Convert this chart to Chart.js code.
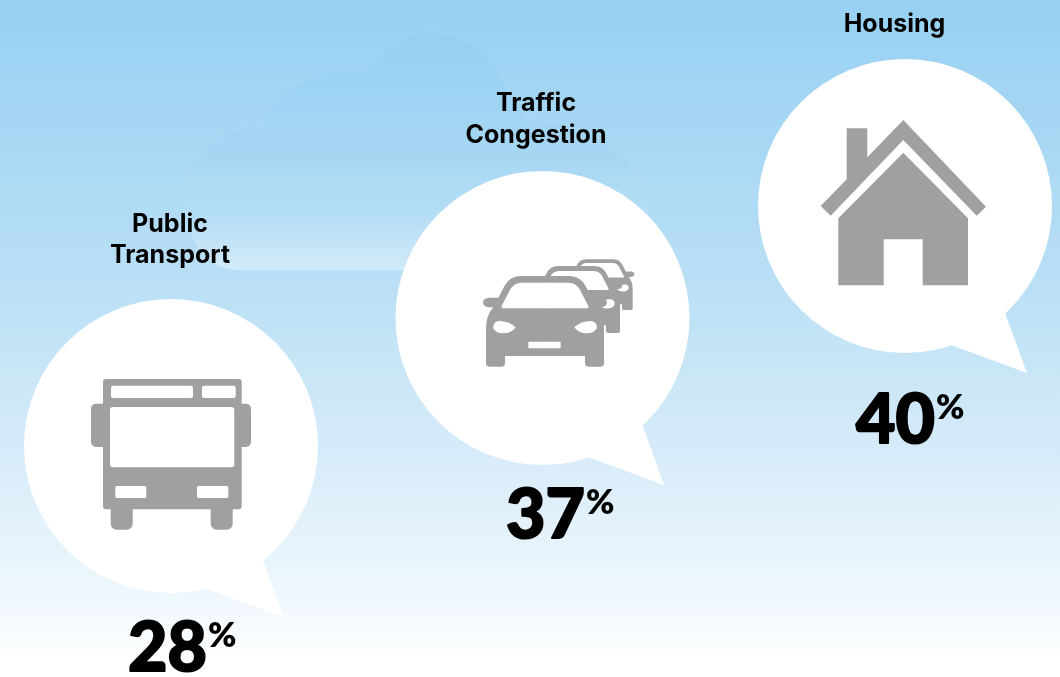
<!DOCTYPE html>
<html>
<head>
<meta charset="utf-8">
<title>Public Transport, Traffic Congestion, Housing</title>
<script src="https://cdn.jsdelivr.net/npm/chart.js@4"></script>
<style>
    html, body { margin: 0; padding: 0; background: #fff; }
    #wrap { position: relative; width: 1060px; height: 677px; }
</style>
</head>
<body>
<div id="wrap"><canvas id="chart" width="1060" height="677"></canvas></div>
<script>
// Data
var categories = [["Public", "Transport"], ["Traffic", "Congestion"], ["Housing"]];
var shares = [28, 37, 40];

var GREY = "#a0a0a0";
var radius = 147;

// The picture staggers its bubbles unevenly, so the axes map values to fractions
class StopScale extends Chart.LinearScale {
    getPixelForValue(value) {
        var stops = this.options.stops;
        var key = String(value);
        if (key in stops) {
            return this.isHorizontal() ? this.left + this.width * stops[key] : this.top + this.height * stops[key];
        }
        return super.getPixelForValue(value);
    }
}
StopScale.id = "stops";
StopScale.defaults = {};
Chart.register(StopScale);

// Label and tail placement around each bubble centre
var callouts = [
    { nameDx: -1, nameY: [-214, -183], pctDx: -43, pctY: 225, tail: [[0, 0], [92, 114], [112, 171], [33, 142]], icon: drawBus },
    { nameDx: -6.5, nameY: [-207, -175], pctDx: -36.5, pctY: 220, tail: [[0, 0], [100, 107], [121.5, 167], [46, 139]], icon: drawCars },
    { nameDx: -10.5, nameY: [-174], pctDx: -49, pctY: 237, tail: [[0, 0], [100, 107], [122, 167], [46, 139]], icon: drawHouse },
];

function poly(ctx, pts) {
    ctx.beginPath();
    pts.forEach(function (p, i) {
        if (i === 0) ctx.moveTo(p[0], p[1]);
        else ctx.lineTo(p[0], p[1]);
    });
    ctx.closePath();
    ctx.fill();
}

function box(ctx, x0, y0, x1, y1, r) {
    ctx.beginPath();
    ctx.roundRect(x0, y0, x1 - x0, y1 - y0, r);
    ctx.fill();
}

function drawBus(ctx) {
    ctx.fillStyle = GREY;
    box(ctx, -68, -67, 70.7, 63.3, 3);
    box(ctx, -80, -42.3, -60, 1, 5);
    box(ctx, 62, -42.3, 80, 1, 5);
    box(ctx, -60.3, 55, -38.3, 83.7, 6);
    box(ctx, 39.7, 55, 61.7, 83.7, 6);
    ctx.fillStyle = "#fff";
    box(ctx, -60, -60.3, 22, -48, 2);
    box(ctx, 31, -60.3, 64.7, -48, 2);
    box(ctx, -61, -39, 63.3, 21.3, 3);
    box(ctx, -55.7, 40, -24.7, 52, 1.5);
    box(ctx, 26, 40, 57.3, 52, 1.5);
}

function carBody(ctx) {
    // Front view, drawn left to right then mirrored
    ctx.fillStyle = GREY;
    [1, -1].forEach(function (side) {
        ctx.beginPath();
        ctx.moveTo(-side * 4, 78);
        ctx.lineTo(side * 75, 78);
        ctx.quadraticCurveTo(side * 105, 79, side * 120, 105);
        ctx.lineTo(side * 140, 143);
        ctx.lineTo(side * 170, 143);
        ctx.quadraticCurveTo(side * 186, 146, side * 186, 157);
        ctx.quadraticCurveTo(side * 186, 170, side * 168, 172);
        ctx.lineTo(side * 155, 172);
        ctx.quadraticCurveTo(side * 177, 195, side * 177, 235);
        ctx.lineTo(side * 177, 340);
        ctx.quadraticCurveTo(side * 177, 350, side * 167, 350);
        ctx.lineTo(side * 130, 350);
        ctx.quadraticCurveTo(side * 120, 350, side * 120, 340);
        ctx.lineTo(side * 120, 318);
        ctx.lineTo(-side * 4, 318);
        ctx.closePath();
        ctx.fill();
    });
    ctx.fillStyle = "#fff";
    [1, -1].forEach(function (side) {
        ctx.beginPath();
        ctx.moveTo(-side * 4, 98);
        ctx.lineTo(side * 72, 98);
        ctx.quadraticCurveTo(side * 92, 99, side * 104, 118);
        ctx.lineTo(side * 130, 168);
        ctx.quadraticCurveTo(side * 132, 175, side * 124, 175);
        ctx.lineTo(-side * 4, 175);
        ctx.closePath();
        ctx.fill();
        // Headlight
        ctx.beginPath();
        ctx.moveTo(side * 88, 232);
        ctx.quadraticCurveTo(side * 110, 212, side * 140, 213);
        ctx.quadraticCurveTo(side * 158, 218, side * 155, 235);
        ctx.quadraticCurveTo(side * 148, 250, side * 125, 250);
        ctx.quadraticCurveTo(side * 100, 250, side * 88, 232);
        ctx.fill();
    });
    box(ctx, -50, 275, 47, 295, 3);
}

function drawCars(ctx) {
    // back to front: zoomed position of the car, its top and its scale
    [[389, 28, 0.56], [319, 48, 0.74], [225, 78, 1]].forEach(function (car) {
        ctx.save();
        ctx.translate(car[0] / 3 - 72.5, car[1] / 3 - 68);
        ctx.scale(car[2] / 3, car[2] / 3);
        ctx.translate(0, -78);
        carBody(ctx);
        ctx.restore();
    });
}

function drawHouse(ctx) {
    ctx.fillStyle = GREY;
    poly(ctx, [[-58.3, -77.7], [-37.7, -77.7], [-37.7, -48.7], [-1.7, -86], [81, 0.7], [71.7, 9.7], [-1.7, -66], [-74.3, 9.7], [-84.3, 0], [-58.3, -26.7]]);
    poly(ctx, [[-1.7, -53.3], [63, 12.3], [63, 79.3], [17.7, 79.3], [17.7, 33.3], [-21.3, 33.3], [-21.3, 79.3], [-66.7, 79.3], [-66.7, 12.3]]);
}

function drawCloud(ctx) {
    ctx.beginPath();
    ctx.moveTo(237, 270);
    ctx.bezierCurveTo(205, 268, 185, 240, 185, 190);
    ctx.bezierCurveTo(190, 150, 225, 125, 260, 126);
    ctx.bezierCurveTo(275, 90, 310, 68, 367, 70);
    ctx.bezierCurveTo(385, 45, 410, 32, 430, 32);
    ctx.bezierCurveTo(470, 32, 500, 60, 507, 90);
    ctx.lineTo(530, 120);
    ctx.bezierCurveTo(600, 125, 640, 160, 648, 200);
    ctx.lineTo(648, 270);
    ctx.closePath();
    var fill = ctx.createLinearGradient(0, 32, 0, 270);
    fill.addColorStop(0, "rgba(135,200,238,0.2)");
    fill.addColorStop(0.55, "rgba(140,200,238,0.1)");
    fill.addColorStop(0.75, "rgba(255,255,255,0.02)");
    fill.addColorStop(1, "rgba(255,255,255,0.36)");
    ctx.fillStyle = fill;
    ctx.fill();
    ctx.strokeStyle = "rgba(255,255,255,0.04)";
    ctx.lineWidth = 3;
    ctx.stroke();
}

var infographic = {
    id: "infographic",
    beforeDraw: function (chart) {
        var ctx = chart.ctx;
        var sky = ctx.createLinearGradient(0, 0, 0, chart.height);
        sky.addColorStop(0, "#96d0f2");
        sky.addColorStop(0.41, "#b9dff5");
        sky.addColorStop(0.68, "#d8ecf9");
        sky.addColorStop(0.89, "#f0f8fd");
        sky.addColorStop(0.98, "#ffffff");
        ctx.save();
        ctx.fillStyle = sky;
        ctx.fillRect(0, 0, chart.width, chart.height);
        drawCloud(ctx);
        ctx.restore();
    },
    beforeDatasetsDraw: function (chart) {
        var ctx = chart.ctx;
        chart.getDatasetMeta(0).data.forEach(function (pt, i) {
            ctx.save();
            ctx.translate(pt.x, pt.y);
            ctx.fillStyle = "#fff";
            poly(ctx, callouts[i].tail);
            ctx.restore();
        });
    },
    afterDatasetsDraw: function (chart) {
        var ctx = chart.ctx;
        chart.getDatasetMeta(0).data.forEach(function (pt, i) {
            var c = callouts[i];
            ctx.save();
            ctx.translate(pt.x, pt.y);
            c.icon(ctx);

            ctx.fillStyle = "#000";
            ctx.strokeStyle = "#000";
            ctx.textAlign = "center";
            ctx.textBaseline = "alphabetic";
            ctx.font = "700 25px Inter";
            categories[i].forEach(function (line, n) {
                ctx.fillText(line, c.nameDx, c.nameY[n]);
            });

            // Lato Black is a little light next to the original face
            ctx.textAlign = "left";
            ctx.font = "900 68px Lato";
            ctx.lineWidth = 2;
            ctx.lineJoin = "round";
            var num = String(shares[i]);
            ctx.fillText(num, c.pctDx, c.pctY);
            ctx.strokeText(num, c.pctDx, c.pctY);
            var w = ctx.measureText(num).width;
            ctx.font = "800 34px Lato";
            ctx.fillText("%", c.pctDx + w + 1, c.pctY - 24);
            ctx.restore();
        });
    },
};

new Chart(document.getElementById("chart"), {
    type: "scatter",
    data: {
        datasets: [
            {
                data: shares.map(function (v, i) {
                    return { x: i, y: v };
                }),
                backgroundColor: "#fff",
                borderWidth: 0,
                pointRadius: radius,
                clip: false,
            },
        ],
    },
    options: {
        responsive: false,
        animation: false,
        layout: { padding: 0, autoPadding: false },
        plugins: { legend: { display: false }, tooltip: { enabled: false } },
        scales: {
            x: { type: "stops", display: false, min: 0, max: 2, stops: { 0: 171 / 1060, 1: 542.5 / 1060, 2: 905 / 1060 } },
            y: { type: "stops", display: false, min: 20, max: 50, stops: { 28: 446 / 677, 37: 318 / 677, 40: 206 / 677 } },
        },
    },
    plugins: [infographic],
});
</script>
</body>
</html>
